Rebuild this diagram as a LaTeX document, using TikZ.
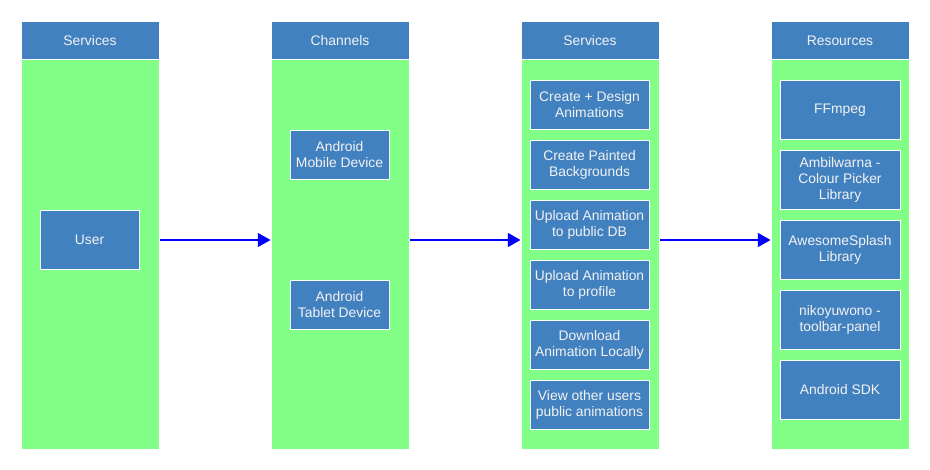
\documentclass[tikz,border=0pt]{standalone}
\usepackage{fontspec}
\setmainfont{Liberation Sans}
\usetikzlibrary{arrows.meta}
\definecolor{hdrblue}{HTML}{4281BF}
\definecolor{colgreen}{HTML}{82FF86}
\definecolor{txtwhite}{HTML}{F2F2F2}
\definecolor{arrblue}{HTML}{0000FF}
\tikzset{
  colhead/.style={rectangle, fill=hdrblue, draw=white, line width=0.75pt, minimum width=103.5pt, minimum height=28.5pt, inner sep=0pt, text=txtwhite, font=\fontsize{10.4}{12}\selectfont},
  colbody/.style={rectangle, fill=colgreen, draw=white, line width=0.75pt, minimum width=103.5pt, minimum height=292.5pt, inner sep=0pt},
  item/.style={rectangle, fill=hdrblue, draw=white, line width=0.75pt, inner sep=0pt, align=center, text=txtwhite, font=\fontsize{10.4}{12}\selectfont},
  smallitem/.style={item, minimum width=89.25pt, minimum height=36.75pt},
  bigitem/.style={item, minimum width=90pt, minimum height=44.25pt},
  midbox/.style={item, minimum width=74.25pt, minimum height=36.75pt},
  userbox/.style={item, minimum width=74.25pt, minimum height=44.25pt},
  flow/.style={draw=arrblue, line width=0.9pt, -{Triangle[length=9.5pt,width=10.5pt]}}
}
\begin{document}
\begin{tikzpicture}[x=0.75pt,y=-0.75pt]
\useasboundingbox (0,0) rectangle (930,470);
% columns
\node[colbody] (b1) at (90,254) {};
\node[colbody] (b2) at (340,254) {};
\node[colbody] (b3) at (590,254) {};
\node[colbody] (b4) at (840,254) {};
\node[colhead] (h1) at (90,40.5) {Services};
\node[colhead] (h2) at (340,40.5) {Channels};
\node[colhead] (h3) at (590,40.5) {Services};
\node[colhead] (h4) at (840,40.5) {Resources};
% column 1
\node[userbox] (user) at (89.5,240) {User};
% column 2
\node[midbox] (mob) at (339.5,155) {Android\\Mobile Device};
\node[midbox] (tab) at (339.5,305) {Android\\Tablet Device};
% column 3
\node[smallitem] (s1) at (589.5,105) {Create + Design\\Animations};
\node[smallitem] (s2) at (589.5,165) {Create Painted\\Backgrounds};
\node[smallitem] (s3) at (589.5,225) {Upload Animation\\to public DB};
\node[smallitem] (s4) at (589.5,285) {Upload Animation\\to profile};
\node[smallitem] (s5) at (589.5,345) {Download\\Animation Locally};
\node[smallitem] (s6) at (589.5,405) {View other users\\public animations};
% column 4
\node[bigitem] (r1) at (840,110) {FFmpeg};
\node[bigitem] (r2) at (840,180) {Ambilwarna -\\Colour Picker\\Library};
\node[bigitem] (r3) at (840,250) {AwesomeSplash\\Library};
\node[bigitem] (r4) at (840,320) {nikoyuwono -\\toolbar-panel};
\node[bigitem] (r5) at (840,390) {Android SDK};
% arrows
\draw[flow] ([yshift=10.5pt]b1.east) -- ([yshift=10.5pt]b2.west);
\draw[flow] ([yshift=10.5pt]b2.east) -- ([yshift=10.5pt]b3.west);
\draw[flow] ([yshift=10.5pt]b3.east) -- ([yshift=10.5pt]b4.west);
\end{tikzpicture}
\end{document}
